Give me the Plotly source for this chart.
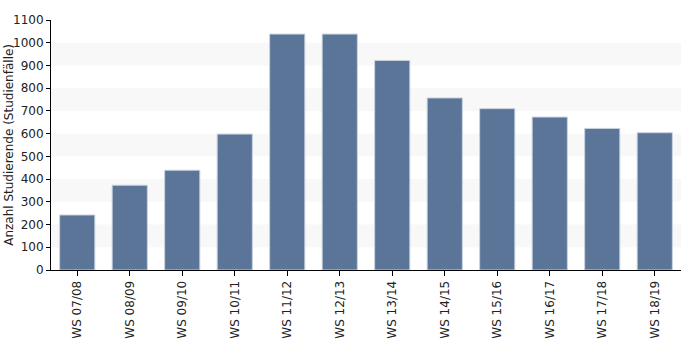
import plotly.graph_objects as go

categories = ["WS 07/08", "WS 08/09", "WS 09/10", "WS 10/11", "WS 11/12", "WS 12/13",
              "WS 13/14", "WS 14/15", "WS 15/16", "WS 16/17", "WS 17/18", "WS 18/19"]
values = [242, 373, 439, 598, 1038, 1038, 922, 757, 710, 673, 623, 604]
y_ticks = list(range(0, 1101, 100))
y_title = "Anzahl Studierende (Studienfälle)"

fig = go.Figure()
fig.add_trace(go.Bar(
    x=categories, y=values,
    marker=dict(color="#5a7597", line=dict(color="#c8d2df", width=1)),
    width=0.67,
))

# alternating background bands
for lo in y_ticks[1:-1:2]:
    fig.add_shape(type="rect", xref="paper", yref="y", x0=0, x1=1, y0=lo, y1=lo + 100,
                  fillcolor="#f8f8f8", line_width=0, layer="below")

font = dict(family="DejaVu Sans", size=12, color="#222222")
fig.add_annotation(text=y_title, xref="paper", yref="paper", x=-0.067, y=0.5,
                   xanchor="center", yanchor="middle", textangle=-90, showarrow=False,
                   font=dict(family="DejaVu Sans", size=12, color="#222222"))
fig.update_layout(
    width=700, height=350,
    margin=dict(l=51, r=19, t=20, b=80),
    plot_bgcolor="white", paper_bgcolor="white",
    showlegend=False,
    font=font,
)
fig.update_xaxes(
    showline=True, linecolor="black", linewidth=1,
    ticks="outside", ticklen=5, tickcolor="black",
    tickangle=-90, showgrid=False, tickfont=font, automargin=False,
)
fig.update_yaxes(
    range=[0, 1100], tickvals=y_ticks,
    showline=True, linecolor="black", linewidth=1,
    ticks="outside", ticklen=4, tickcolor="black", ticklabelstandoff=0,
    showgrid=False, zeroline=False, tickfont=font, automargin=False,
)
fig.write_html("out.html")
